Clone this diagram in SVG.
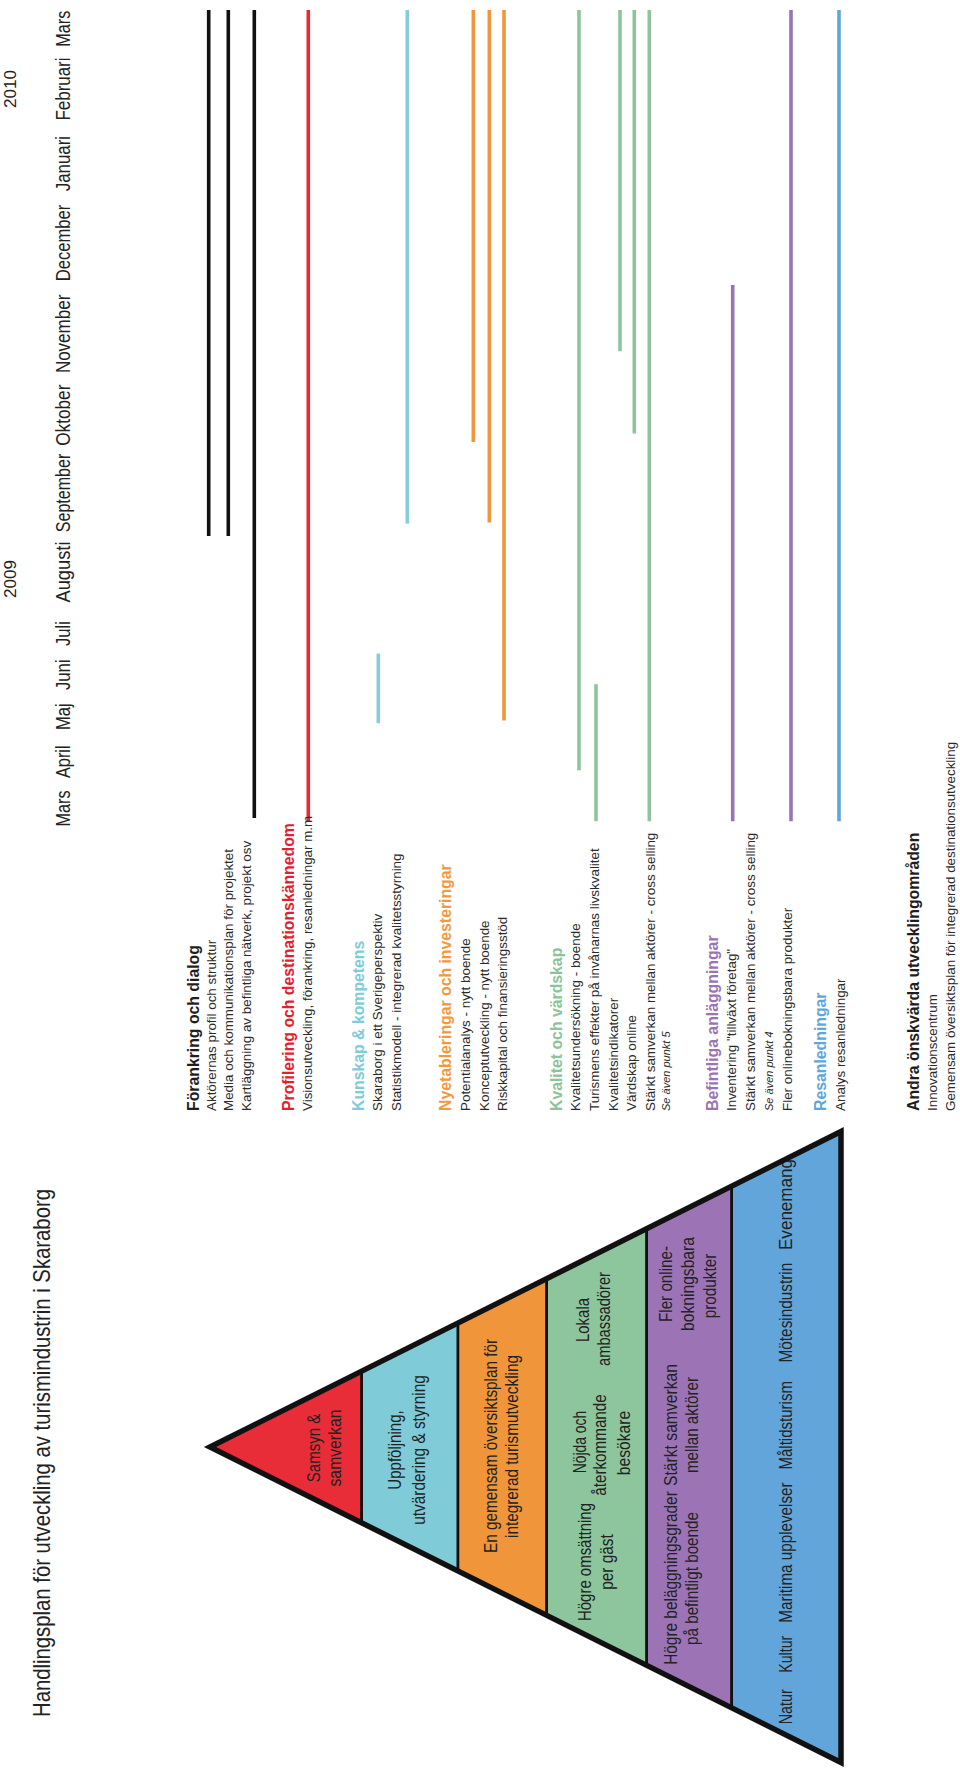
<svg xmlns="http://www.w3.org/2000/svg" width="960" height="1779" viewBox="0 0 960 1779">
<style>
text { font-family: "Liberation Sans", Arial, sans-serif; fill: #1e1e1e; }
.m { font-size: 19.5px; fill: #222; }
.yr { font-size: 16px; fill: #222; }
.ttl { font-size: 24.5px; fill: #222; }
.h { font-size: 15.8px; font-weight: bold; }
.t { font-size: 13.4px; fill: #2a2a2a; }
.s { font-size: 11px; font-style: italic; fill: #2a2a2a; }
.p { font-size: 18px; fill: #222; text-anchor: middle; }
.bar { fill: none; stroke-width: 3.6; stroke-linecap: butt; }
.band { stroke: #111; stroke-width: 2.6; stroke-linejoin: miter; }
.k { stroke: #111; }
.r { stroke: #E52A35; }
.c { stroke: #86CCDA; }
.o { stroke: #F1953A; }
.g { stroke: #8EC49D; }
.v { stroke: #9A73B4; }
.b { stroke: #5FA6DB; }
</style>
<rect width="960" height="1779" fill="#ffffff"/>
<g transform="translate(0,1779) rotate(-90)">
  <g id="title">
    <text class="ttl" x="62" y="49.5" textLength="528" lengthAdjust="spacingAndGlyphs">Handlingsplan för utveckling av turismindustrin i Skaraborg</text>
  </g>
  <g id="timeline">
    <text class="yr" x="1200" y="15.5" text-anchor="middle" textLength="38" lengthAdjust="spacingAndGlyphs">2009</text>
    <text class="yr" x="1690" y="15.5" text-anchor="middle" textLength="38" lengthAdjust="spacingAndGlyphs">2010</text>
    <text class="m" x="970.5" y="70" text-anchor="middle" textLength="36" lengthAdjust="spacingAndGlyphs">Mars</text>
    <text class="m" x="1017.3" y="70" text-anchor="middle" textLength="32.6" lengthAdjust="spacingAndGlyphs">April</text>
    <text class="m" x="1062.3" y="70" text-anchor="middle" textLength="26.8" lengthAdjust="spacingAndGlyphs">Maj</text>
    <text class="m" x="1104.3" y="70" text-anchor="middle" textLength="30.7" lengthAdjust="spacingAndGlyphs">Juni</text>
    <text class="m" x="1145.5" y="70" text-anchor="middle" textLength="25" lengthAdjust="spacingAndGlyphs">Juli</text>
    <text class="m" x="1207" y="70" text-anchor="middle" textLength="61" lengthAdjust="spacingAndGlyphs">Augusti</text>
    <text class="m" x="1286" y="70" text-anchor="middle" textLength="78.5" lengthAdjust="spacingAndGlyphs">September</text>
    <text class="m" x="1363.8" y="70" text-anchor="middle" textLength="61.2" lengthAdjust="spacingAndGlyphs">Oktober</text>
    <text class="m" x="1445.1" y="70" text-anchor="middle" textLength="78.4" lengthAdjust="spacingAndGlyphs">November</text>
    <text class="m" x="1536" y="70" text-anchor="middle" textLength="76.6" lengthAdjust="spacingAndGlyphs">December</text>
    <text class="m" x="1615.4" y="70" text-anchor="middle" textLength="55.4" lengthAdjust="spacingAndGlyphs">Januari</text>
    <text class="m" x="1690" y="70" text-anchor="middle" textLength="63.1" lengthAdjust="spacingAndGlyphs">Februari</text>
    <text class="m" x="1750.3" y="70" text-anchor="middle" textLength="36" lengthAdjust="spacingAndGlyphs">Mars</text>
  </g>
  <g id="connectors">
    <line class="bar k" x1="1243" y1="208.7" x2="1769" y2="208.7" stroke-width="4"/>
    <line class="bar k" x1="1243" y1="228.3" x2="1769" y2="228.3" stroke-width="4"/>
    <line class="bar k" x1="961" y1="254.3" x2="1769" y2="254.3" stroke-width="4"/>
    <line class="bar r" x1="957" y1="308.3" x2="1769" y2="308.3" stroke-width="4"/>
    <line class="bar c" x1="1055.8" y1="378.3" x2="1125.4" y2="378.3"/>
    <line class="bar c" x1="1255.5" y1="407.3" x2="1769" y2="407.3"/>
    <line class="bar o" x1="1337" y1="473.3" x2="1769" y2="473.3"/>
    <line class="bar o" x1="1256.6" y1="489.3" x2="1769" y2="489.3"/>
    <line class="bar o" x1="1058.5" y1="504" x2="1769" y2="504"/>
    <line class="bar g" x1="1008.7" y1="579" x2="1769" y2="579"/>
    <line class="bar g" x1="957.8" y1="596" x2="1094.8" y2="596"/>
    <line class="bar g" x1="1427.7" y1="620" x2="1769" y2="620"/>
    <line class="bar g" x1="1345.4" y1="634.3" x2="1769" y2="634.3"/>
    <line class="bar g" x1="957.8" y1="649.3" x2="1769" y2="649.3"/>
    <line class="bar v" x1="957.8" y1="732.7" x2="1494" y2="732.7"/>
    <line class="bar v" x1="957.8" y1="791" x2="1769" y2="791"/>
    <line class="bar b" x1="957.8" y1="839" x2="1769" y2="839" stroke-width="4"/>
  </g>
  <g id="sec-forankring">
    <text class="h" x="668" y="199">Förankring och dialog</text>
    <text class="t" x="668" y="215.5">Aktörernas profil och struktur</text>
    <text class="t" x="668" y="233">Media och kommunikationsplan för projektet</text>
    <text class="t" x="668" y="251">Kartläggning av befintliga nätverk, projekt osv</text>
  </g>
  <g id="sec-profilering">
    <text class="h" x="668" y="294" style="fill:#E3202E">Profilering och destinationskännedom</text>
    <text class="t" x="668" y="312">Visionsutveckling, förankring, resanledningar m.m</text>
  </g>
  <g id="sec-kunskap">
    <text class="h" x="668" y="364" style="fill:#7FCBDA">Kunskap &amp; kompetens</text>
    <text class="t" x="668" y="382">Skaraborg i ett Sverigeperspektiv</text>
    <text class="t" x="668" y="401">Statistikmodell - integrerad kvalitetsstyrning</text>
  </g>
  <g id="sec-nyetableringar">
    <text class="h" x="668" y="451" style="fill:#F3993B">Nyetableringar och investeringar</text>
    <text class="t" x="668" y="470">Potentialanalys - nytt boende</text>
    <text class="t" x="668" y="489">Konceptutveckling - nytt boende</text>
    <text class="t" x="668" y="507">Riskkapital och finansieringsstöd</text>
  </g>
  <g id="sec-kvalitet">
    <text class="h" x="668" y="562" style="fill:#8BC39B">Kvalitet och värdskap</text>
    <text class="t" x="668" y="580">Kvalitetsundersökning - boende</text>
    <text class="t" x="668" y="599">Turismens effekter på invånarnas livskvalitet</text>
    <text class="t" x="668" y="618">Kvalitetsindikatorer</text>
    <text class="t" x="668" y="636">Värdskap online</text>
    <text class="t" x="668" y="655">Stärkt samverkan mellan aktörer - cross selling</text>
    <text class="s" x="668" y="670">Se även punkt 5</text>
  </g>
  <g id="sec-befintliga">
    <text class="h" x="668" y="718" style="fill:#9B74B4">Befintliga anläggningar</text>
    <text class="t" x="668" y="736">Inventering "tillväxt företag"</text>
    <text class="t" x="668" y="755">Stärkt samverkan mellan aktörer - cross selling</text>
    <text class="s" x="668" y="773">Se även punkt 4</text>
    <text class="t" x="668" y="792">Fler onlinebokningsbara produkter</text>
  </g>
  <g id="sec-resanledningar">
    <text class="h" x="668" y="826" style="fill:#5EA6DB">Resanledningar</text>
    <text class="t" x="668" y="845">Analys resanledningar</text>
  </g>
  <g id="sec-andra">
    <text class="h" x="668" y="919">Andra önskvärda utvecklingområden</text>
    <text class="t" x="668" y="937">Innovationscentrum</text>
    <text class="t" x="668" y="955">Gemensam översiktsplan för integrerad destinationsutveckling</text>
  </g>
  <g id="pyramid">
    <g id="band-red">
      <polygon class="band" fill="#E92D38" points="332,210 256.15,361.7 407.85,361.7"/>
      <text class="p" x="331" y="320" textLength="68.5" lengthAdjust="spacingAndGlyphs">Samsyn &amp;</text>
      <text class="p" x="331" y="341" textLength="77" lengthAdjust="spacingAndGlyphs">samverkan</text>
    </g>
    <g id="band-cyan">
      <polygon class="band" fill="#7FCBD8" points="256.15,361.7 407.85,361.7 456,458 208,458"/>
      <text class="p" x="329" y="401" textLength="79.4" lengthAdjust="spacingAndGlyphs">Uppföljning,</text>
      <text class="p" x="329" y="425" textLength="149.5" lengthAdjust="spacingAndGlyphs">utvärdering  &amp; styrning</text>
    </g>
    <g id="band-orange">
      <polygon class="band" fill="#F0953A" points="208,458 456,458 500.35,546.7 163.65,546.7"/>
      <text class="p" x="333" y="497" textLength="214" lengthAdjust="spacingAndGlyphs">En gemensam översiktsplan för</text>
      <text class="p" x="332.5" y="518" textLength="183" lengthAdjust="spacingAndGlyphs">integrerad turismutveckling</text>
    </g>
    <g id="band-green">
      <polygon class="band" fill="#8DC59C" points="163.65,546.7 500.35,546.7 550.35,646.7 113.65,646.7"/>
      <text class="p" x="217" y="591" textLength="118" lengthAdjust="spacingAndGlyphs">Högre omsättning</text>
      <text class="p" x="217" y="613" textLength="55.4" lengthAdjust="spacingAndGlyphs">per gäst</text>
      <text class="p" x="337" y="586" textLength="62.5" lengthAdjust="spacingAndGlyphs">Nöjda och</text>
      <text class="p" x="334" y="606" textLength="101.5" lengthAdjust="spacingAndGlyphs">återkommande</text>
      <text class="p" x="336" y="630" textLength="64.5" lengthAdjust="spacingAndGlyphs">besökare</text>
      <text class="p" x="459" y="589" textLength="44" lengthAdjust="spacingAndGlyphs">Lokala</text>
      <text class="p" x="460" y="610" textLength="94" lengthAdjust="spacingAndGlyphs">ambassadörer</text>
    </g>
    <g id="band-purple">
      <polygon class="band" fill="#9C74B6" points="113.65,646.7 550.35,646.7 592.85,731.7 71.15,731.7"/>
      <text class="p" x="201" y="677" textLength="173.6" lengthAdjust="spacingAndGlyphs">Högre beläggningsgrader</text>
      <text class="p" x="200.5" y="698" textLength="133" lengthAdjust="spacingAndGlyphs">på befintligt boende</text>
      <text class="p" x="354" y="677" textLength="122" lengthAdjust="spacingAndGlyphs">Stärkt samverkan</text>
      <text class="p" x="354" y="698" textLength="96" lengthAdjust="spacingAndGlyphs">mellan aktörer</text>
      <text class="p" x="495" y="672" textLength="76" lengthAdjust="spacingAndGlyphs">Fler online-</text>
      <text class="p" x="495" y="694" textLength="94" lengthAdjust="spacingAndGlyphs">bokningsbara</text>
      <text class="p" x="493" y="716" textLength="64.5" lengthAdjust="spacingAndGlyphs">produkter</text>
    </g>
    <g id="band-blue">
      <polygon class="band" fill="#62A5DA" points="71.15,731.7 592.85,731.7 647.5,841 16.5,841"/>
      <text class="p" x="72.2" y="792" textLength="35.1" lengthAdjust="spacingAndGlyphs">Natur</text>
      <text class="p" x="124.8" y="792" textLength="36.9" lengthAdjust="spacingAndGlyphs">Kultur</text>
      <text class="p" x="226.4" y="792" textLength="140.3" lengthAdjust="spacingAndGlyphs">Maritima upplevelser</text>
      <text class="p" x="353.7" y="792" textLength="88.6" lengthAdjust="spacingAndGlyphs">Måltidsturism</text>
      <text class="p" x="466.4" y="792" textLength="99.7" lengthAdjust="spacingAndGlyphs">Mötesindustrin</text>
      <text class="p" x="574.5" y="792" textLength="91" lengthAdjust="spacingAndGlyphs">Evenemang</text>
    </g>
    <polygon id="pyramid-outline" points="332,210 647.5,841 16.5,841" fill="none" stroke="#111" stroke-width="5.5" stroke-linejoin="miter"/>
  </g>
</g>
</svg>
